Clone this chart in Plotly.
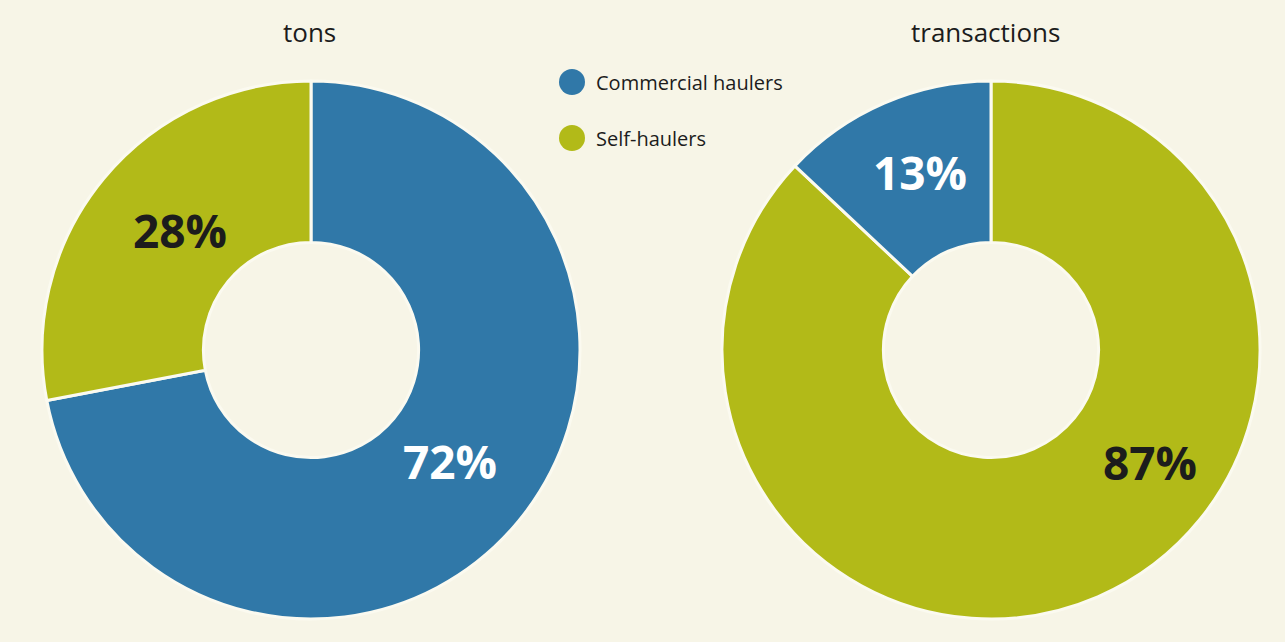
import plotly.graph_objects as go

# Share of waste by hauler type
categories = ["Commercial haulers", "Self-haulers"]
tons_pct = [72, 28]
transactions_pct = [13, 87]
chart_titles = ["tons", "transactions"]

BLUE = "#3078a8"
GREEN = "#b2ba18"
BG = "#f7f5e7"
INK = "#1c1c1c"
colors = {"Commercial haulers": BLUE, "Self-haulers": GREEN}

W, H = 1285, 642


def px(x, y):
    """Pixel position -> paper coordinates."""
    return x / W, 1 - y / H


fig = go.Figure()

# tons: commercial first, clockwise from 12 o'clock
fig.add_trace(go.Pie(
    labels=categories, values=tons_pct, sort=False, direction="clockwise",
    rotation=0, hole=0.40, textinfo="none", hoverinfo="label+percent",
    marker=dict(colors=[colors[c] for c in categories],
                line=dict(color="#fbfaf0", width=3)),
    domain=dict(x=[42 / W, 580 / W], y=[23 / H, 561 / H]),
    showlegend=False,
))

# transactions: self-haulers first, so commercial ends at 12 o'clock
tx_labels = categories[::-1]
tx_values = transactions_pct[::-1]
fig.add_trace(go.Pie(
    labels=tx_labels, values=tx_values, sort=False, direction="clockwise",
    rotation=0, hole=0.40, textinfo="none", hoverinfo="label+percent",
    marker=dict(colors=[colors[c] for c in tx_labels],
                line=dict(color="#fbfaf0", width=3)),
    domain=dict(x=[722 / W, 1260 / W], y=[23 / H, 561 / H]),
    showlegend=False,
))

annotations = []

# chart titles
for title, cx in zip(chart_titles, [309, 985]):
    x, y = px(cx, 32)
    annotations.append(dict(
        x=x, y=y, xref="paper", yref="paper", text=title, showarrow=False,
        xanchor="center", yanchor="middle",
        font=dict(family="Open Sans", size=26, color=INK)))

# percentage labels
label_spots = [
    (tons_pct[0], (450, 461), "white"),
    (tons_pct[1], (180, 230), INK),
    (transactions_pct[0], (920, 172), "white"),
    (transactions_pct[1], (1150, 462), INK),
]
for val, (lx, ly), col in label_spots:
    x, y = px(lx, ly)
    annotations.append(dict(
        x=x, y=y, xref="paper", yref="paper", text=f"<b>{val}%</b>",
        showarrow=False, xanchor="center", yanchor="middle",
        font=dict(family="Open Sans", size=46, color=col)))

# legend: dots and names
shapes = []
for i, cat in enumerate(categories):
    cy = 82 + i * 56
    r = 13
    x0, y1 = px(572 - r, cy - r)
    x1, y0 = px(572 + r, cy + r)
    shapes.append(dict(type="circle", xref="paper", yref="paper",
                       x0=x0, x1=x1, y0=y0, y1=y1,
                       fillcolor=colors[cat], line=dict(width=0)))
    tx, ty = px(594, cy)
    annotations.append(dict(
        x=tx, y=ty, xref="paper", yref="paper", text=cat, showarrow=False,
        xanchor="left", yanchor="middle",
        font=dict(family="Open Sans", size=20, color=INK)))

fig.update_layout(
    width=W, height=H,
    margin=dict(l=0, r=0, t=0, b=0),
    paper_bgcolor=BG, plot_bgcolor=BG,
    annotations=annotations, shapes=shapes,
)

fig.write_html("out.html")
